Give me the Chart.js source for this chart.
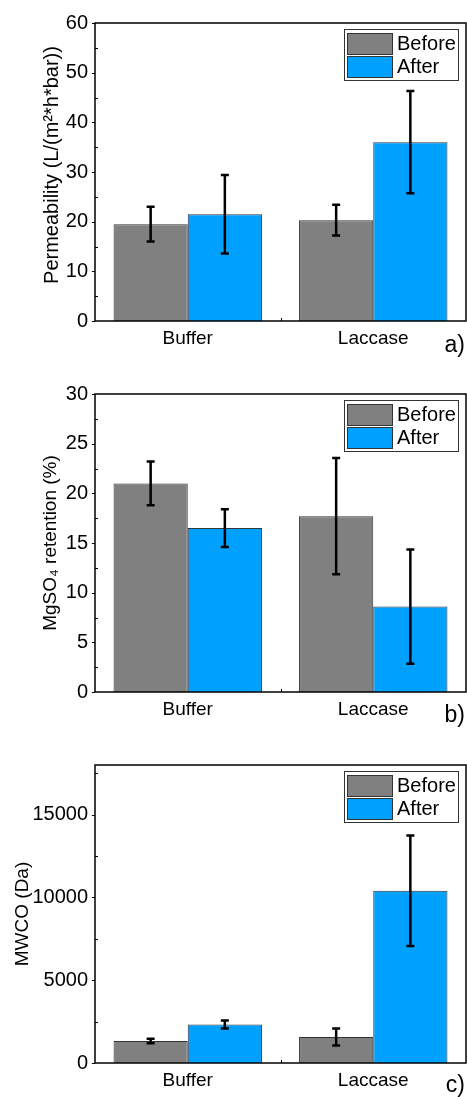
<!DOCTYPE html>
<html>
<head>
<meta charset="utf-8">
<script src="https://cdn.jsdelivr.net/npm/chart.js@4.4.1/dist/chart.umd.min.js"></script>
<style>
  html, body { margin: 0; padding: 0; background: #fff; }
  .panel { position: absolute; left: 0; width: 467px; }
</style>
</head>
<body>
<div class="panel" style="top:0;height:370px"><canvas id="chartA"></canvas></div>
<div class="panel" style="top:370px;height:370px"><canvas id="chartB"></canvas></div>
<div class="panel" style="top:740px;height:357px"><canvas id="chartC"></canvas></div>
<script>
// Data
const categories = ['Buffer', 'Laccase'];
const seriesNames = ['Before', 'After'];

const permBefore = [19.5, 20.3];
const permBeforeErr = [3.5, 3.1];
const permAfter = [21.5, 36.0];
const permAfterErr = [7.9, 10.3];
const permTicks = [0, 10, 20, 30, 40, 50, 60];

const retBefore = [21.0, 17.7];
const retBeforeErr = [2.2, 5.85];
const retAfter = [16.5, 8.6];
const retAfterErr = [1.9, 5.75];
const retTicks = [0, 5, 10, 15, 20, 25, 30];

const mwcoBefore = [1330, 1570];
const mwcoBeforeErr = [140, 520];
const mwcoAfter = [2330, 10400];
const mwcoAfterErr = [240, 3340];
const mwcoTicks = [0, 5000, 10000, 15000];

const colorBefore = '#808080';
const colorAfter = '#00A0FF';
const edgeColor = '#333333';
const FONT = "'Liberation Sans', Arial, sans-serif";

// error bars, frame, tick marks, legend, titles
const decorPlugin = {
  id: 'decor',
  afterDatasetsDraw(chart) {
    const ctx = chart.ctx;
    const opt = chart.options.plugins.decor;
    const area = chart.chartArea;
    const yScale = chart.scales.y;
    const xScale = chart.scales.x;

    // error bars
    ctx.save();
    ctx.strokeStyle = '#000';
    ctx.lineWidth = 2.5;
    chart.data.datasets.forEach((ds, di) => {
      const meta = chart.getDatasetMeta(di);
      meta.data.forEach((bar, i) => {
        const v = ds.data[i], e = ds.errors[i];
        const yHi = yScale.getPixelForValue(v + e);
        const yLo = yScale.getPixelForValue(Math.max(v - e, 0));
        ctx.beginPath();
        ctx.moveTo(bar.x, yHi); ctx.lineTo(bar.x, yLo);
        ctx.moveTo(bar.x - 4, yHi); ctx.lineTo(bar.x + 4, yHi);
        ctx.moveTo(bar.x - 4, yLo); ctx.lineTo(bar.x + 4, yLo);
        ctx.stroke();
      });
    });
    ctx.restore();

    // frame
    ctx.save();
    ctx.strokeStyle = '#000';
    ctx.lineWidth = 1.5;
    ctx.strokeRect(area.left, area.top, area.right - area.left, area.bottom - area.top);

    // y tick marks: majors outward, minors inward
    ctx.lineWidth = 1;
    const ticks = opt.ticks;
    ticks.forEach((t, i) => {
      const py = Math.round(yScale.getPixelForValue(t)) + 0.5;
      ctx.beginPath();
      ctx.moveTo(area.left - 3, py); ctx.lineTo(area.left, py);
      ctx.stroke();
      const next = i < ticks.length - 1 ? ticks[i + 1] : t + (t - ticks[i - 1]);
      const mid = (t + next) / 2;
      if (mid < yScale.max) {
        const my = Math.round(yScale.getPixelForValue(mid)) + 0.5;
        ctx.beginPath();
        ctx.moveTo(area.left, my); ctx.lineTo(area.left + 3, my);
        ctx.stroke();
      }
    });
    // x minor tick between categories
    const xm = Math.round((xScale.getPixelForValue(0) + xScale.getPixelForValue(1)) / 2) + 0.5;
    ctx.beginPath();
    ctx.moveTo(xm, area.bottom); ctx.lineTo(xm, area.bottom - 3);
    ctx.stroke();
    ctx.restore();

    // legend
    ctx.save();
    const bw = 114, bh = 51;
    const bx = area.right - 8 - bw, by = area.top + 6;
    ctx.fillStyle = '#fff';
    ctx.fillRect(bx, by, bw, bh);
    ctx.strokeStyle = '#333';
    ctx.lineWidth = 1;
    ctx.strokeRect(bx + 0.5, by + 0.5, bw, bh);
    chart.data.datasets.forEach((ds, di) => {
      const sy = by + 4 + di * 23;
      ctx.fillStyle = ds.backgroundColor;
      ctx.fillRect(bx + 3, sy, 45, 21);
      ctx.strokeStyle = edgeColor;
      ctx.strokeRect(bx + 3.5, sy + 0.5, 45, 21);
      ctx.fillStyle = '#000';
      ctx.font = '20px ' + FONT;
      ctx.textBaseline = 'middle';
      ctx.textAlign = 'left';
      ctx.fillText(ds.label, bx + 53, sy + 11.5);
    });
    ctx.restore();

    // y title
    ctx.save();
    ctx.fillStyle = '#000';
    ctx.font = opt.titleSize + 'px ' + FONT;
    ctx.translate(opt.titleX, (area.top + area.bottom) / 2 + opt.titleShift);
    ctx.rotate(-Math.PI / 2);
    ctx.textAlign = 'center';
    ctx.textBaseline = 'middle';
    ctx.fillText(opt.title, 0, 0);
    ctx.restore();

    // panel letter
    ctx.save();
    ctx.fillStyle = '#000';
    ctx.font = '23px ' + FONT;
    ctx.textAlign = 'right';
    ctx.textBaseline = 'alphabetic';
    ctx.fillText(opt.letter, 465, opt.letterY);
    ctx.restore();
  }
};

function makePanel(id, before, beforeErr, after, afterErr, yMax, yTicks, title, titleOpt, letter, topPad, xHeight) {
  return new Chart(document.getElementById(id), {
    type: 'bar',
    data: {
      labels: categories,
      datasets: [
        { label: seriesNames[0], data: before, errors: beforeErr,
          backgroundColor: colorBefore, borderColor: edgeColor, borderWidth: 1 },
        { label: seriesNames[1], data: after, errors: afterErr,
          backgroundColor: colorAfter, borderColor: edgeColor, borderWidth: 1 }
      ]
    },
    options: {
      responsive: true,
      maintainAspectRatio: false,
      animation: false,
      events: [],
      layout: { padding: { top: topPad, right: 1, left: 0, bottom: 0 } },
      datasets: { bar: { categoryPercentage: 0.8, barPercentage: 1.0 } },
      scales: {
        x: {
          grid: { display: false, drawTicks: false },
          border: { display: false },
          ticks: { color: '#000', font: { family: FONT, size: 19 }, padding: 6 },
          afterFit: function(scale) { scale.height = xHeight; }
        },
        y: {
          min: 0, max: yMax,
          grid: { display: false, drawTicks: false },
          border: { display: false },
          ticks: { color: '#000', font: { family: FONT, size: 20 }, padding: 7,
                   callback: function(v) { return String(v); } },
          afterBuildTicks: function(scale) { scale.ticks = yTicks.map(v => ({ value: v })); },
          afterFit: function(scale) { scale.width = 95; }
        }
      },
      plugins: {
        legend: { display: false },
        tooltip: { enabled: false },
        decor: { ticks: yTicks, title: title, titleX: titleOpt.x, titleSize: titleOpt.size,
                 titleShift: titleOpt.shift, letter: letter, letterY: 352 }
      }
    },
    plugins: [decorPlugin]
  });
}

makePanel('chartA', permBefore, permBeforeErr, permAfter, permAfterErr, 60, permTicks,
  'Permeability (L/(m\u00B2*h*bar))', { x: 52, size: 20, shift: -7 }, 'a)', 23, 49);
makePanel('chartB', retBefore, retBeforeErr, retAfter, retAfterErr, 30, retTicks,
  'MgSO\u2084 retention (%)', { x: 51, size: 19, shift: 0 }, 'b)', 24, 48);
makePanel('chartC', mwcoBefore, mwcoBeforeErr, mwcoAfter, mwcoAfterErr, 18000, mwcoTicks,
  'MWCO (Da)', { x: 23, size: 19, shift: 0 }, 'c)', 25, 34);
</script>
</body>
</html>
